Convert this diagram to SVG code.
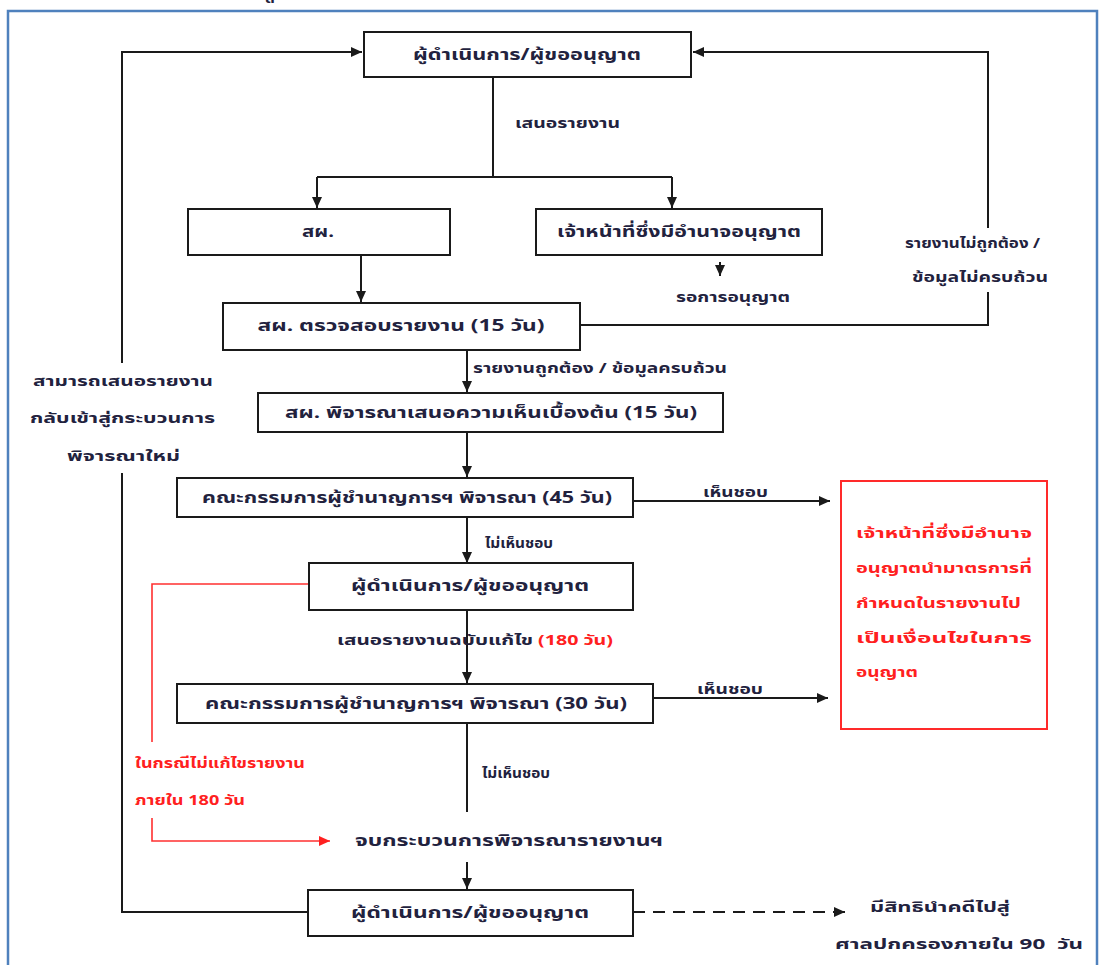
<svg xmlns="http://www.w3.org/2000/svg" width="1101" height="965" viewBox="0 0 1101 965">
  <style>
    .bg{fill:#ffffff}
    .frame{fill:none;stroke:#4f81bd;stroke-width:2.5}
    .box{fill:#ffffff;stroke:#1a1a1a;stroke-width:2}
    .redbox{fill:#ffffff;stroke:#ff2a2a;stroke-width:2}
    .t{font-family:Tahoma,"Noto Sans Thai","Noto Sans Thai UI",Loma,Garuda,"DejaVu Sans",sans-serif;font-size:16px;font-weight:bold;fill:#22223e;text-anchor:middle;dominant-baseline:central;white-space:pre}
    .s{font-size:14px}
    .l{text-anchor:start}
    .red{fill:#ff2020}
    .ln{fill:none;stroke:#1a1a1a;stroke-width:2}
    .dash{stroke-dasharray:12 8}
    .rl{fill:none;stroke:#ff3030;stroke-width:1.6}
  </style>
  <defs>
    <marker id="ah" markerUnits="userSpaceOnUse" markerWidth="12" markerHeight="10" refX="11" refY="5" orient="auto">
      <path d="M0,0 L11,5 L0,10 z" fill="#1a1a1a"/>
    </marker>
    <marker id="ahr" markerUnits="userSpaceOnUse" markerWidth="12" markerHeight="10" refX="11" refY="5" orient="auto">
      <path d="M0,0 L11,5 L0,10 z" fill="#ff2020"/>
    </marker>
  </defs>

  <rect class="bg" x="0" y="0" width="1101" height="965"/>
  <!-- page frame -->
  <rect class="frame" x="8" y="11" width="1089" height="980"/>
  <!-- heading glyph sitting above the frame edge -->
  <text class="t" x="270" y="-2">สี</text>

  <g id="connectors">
    <!-- left return loop -->
    <path class="ln" d="M308,912 H122 V473"/>
    <path class="ln" d="M122,363 V52 H362" marker-end="url(#ah)"/>
    <!-- right return loop -->
    <path class="ln" d="M580,325 H988 V292"/>
    <path class="ln" d="M988,228 V52 H693" marker-end="url(#ah)"/>
    <!-- submit report split -->
    <path class="ln" d="M493,77 V177"/>
    <path class="ln" d="M317,177 H672"/>
    <path class="ln" d="M317,177 V208" marker-end="url(#ah)"/>
    <path class="ln" d="M672,177 V208" marker-end="url(#ah)"/>
    <path class="ln" d="M720,262 V276" marker-end="url(#ah)"/>
    <path class="ln" d="M361,255 V302" marker-end="url(#ah)"/>
    <path class="ln" d="M467,350 V392" marker-end="url(#ah)"/>
    <path class="ln" d="M467,432 V477" marker-end="url(#ah)"/>
    <path class="ln" d="M633,501 H830" marker-end="url(#ah)"/>
    <path class="ln" d="M467,517 V563" marker-end="url(#ah)"/>
    <path class="ln" d="M467,610 V683" marker-end="url(#ah)"/>
    <path class="ln" d="M653,698 H828" marker-end="url(#ah)"/>
    <path class="ln" d="M467,723 V812"/>
    <path class="ln" d="M467,862 V889" marker-end="url(#ah)"/>
    <path class="ln dash" d="M633,912 H845" marker-end="url(#ah)"/>
    <!-- red fallback path -->
    <path class="rl" d="M309,584 H152 V742"/>
    <path class="rl" d="M152,818 V841 H330" marker-end="url(#ahr)"/>
  </g>

  <g id="n-proponent-top">
    <rect class="box" x="364" y="32" width="327" height="45"/>
    <text class="t" x="527" y="55" textLength="228" lengthAdjust="spacingAndGlyphs">ผู้ดำเนินการ/ผู้ขออนุญาต</text>
  </g>
  <g id="lbl-submit">
    <text class="t s l" x="515" y="123" textLength="105" lengthAdjust="spacingAndGlyphs">เสนอรายงาน</text>
  </g>
  <g id="n-onep">
    <rect class="box" x="188" y="209" width="262" height="46"/>
    <text class="t" x="318" y="232" textLength="32" lengthAdjust="spacingAndGlyphs">สผ.</text>
  </g>
  <g id="n-authority">
    <rect class="box" x="536" y="209" width="286" height="46"/>
    <text class="t" x="679" y="232" textLength="244" lengthAdjust="spacingAndGlyphs">เจ้าหน้าที่ซึ่งมีอำนาจอนุญาต</text>
  </g>
  <g id="lbl-await">
    <text class="t s l" x="676" y="297" textLength="114" lengthAdjust="spacingAndGlyphs">รอการอนุญาต</text>
  </g>
  <g id="n-check">
    <rect class="box" x="223" y="303" width="357" height="47"/>
    <text class="t" x="401" y="326" textLength="287" lengthAdjust="spacingAndGlyphs">สผ. ตรวจสอบรายงาน (15 วัน)</text>
  </g>
  <g id="lbl-incomplete">
    <text class="t s l" x="905" y="243" textLength="135" lengthAdjust="spacingAndGlyphs">รายงานไม่ถูกต้อง /</text>
    <text class="t s l" x="912" y="277" textLength="136" lengthAdjust="spacingAndGlyphs">ข้อมูลไม่ครบถ้วน</text>
  </g>
  <g id="lbl-resubmit">
    <text class="t s l" x="33" y="381" textLength="180" lengthAdjust="spacingAndGlyphs">สามารถเสนอรายงาน</text>
    <text class="t s l" x="30" y="418" textLength="185" lengthAdjust="spacingAndGlyphs">กลับเข้าสู่กระบวนการ</text>
    <text class="t s l" x="67" y="456" textLength="113" lengthAdjust="spacingAndGlyphs">พิจารณาใหม่</text>
  </g>
  <g id="lbl-complete">
    <text class="t s l" x="473" y="368" textLength="254" lengthAdjust="spacingAndGlyphs">รายงานถูกต้อง / ข้อมูลครบถ้วน</text>
  </g>
  <g id="n-prelim">
    <rect class="box" x="258" y="393" width="465" height="39"/>
    <text class="t" x="491" y="413" textLength="412" lengthAdjust="spacingAndGlyphs">สผ. พิจารณาเสนอความเห็นเบื้องต้น (15 วัน)</text>
  </g>
  <g id="n-committee45">
    <rect class="box" x="177" y="478" width="456" height="39"/>
    <text class="t" x="407" y="498" textLength="410" lengthAdjust="spacingAndGlyphs">คณะกรรมการผู้ชำนาญการฯ พิจารณา (45 วัน)</text>
  </g>
  <g id="lbl-approve1">
    <text class="t s l" x="703" y="492" textLength="65" lengthAdjust="spacingAndGlyphs">เห็นชอบ</text>
  </g>
  <g id="lbl-reject1">
    <text class="t s l" x="485" y="543" textLength="68" lengthAdjust="spacingAndGlyphs">ไม่เห็นชอบ</text>
  </g>
  <g id="n-proponent-mid">
    <rect class="box" x="309" y="563" width="324" height="47"/>
    <text class="t" x="470" y="586" textLength="238" lengthAdjust="spacingAndGlyphs">ผู้ดำเนินการ/ผู้ขออนุญาต</text>
  </g>
  <g id="lbl-revise">
    <text class="t s l" x="337" y="640" textLength="196" lengthAdjust="spacingAndGlyphs">เสนอรายงานฉบับแก้ไข</text>
    <text class="t s l red" x="538" y="640" textLength="75" lengthAdjust="spacingAndGlyphs">(180 วัน)</text>
  </g>
  <g id="n-committee30">
    <rect class="box" x="177" y="684" width="476" height="39"/>
    <text class="t" x="416" y="704" textLength="422" lengthAdjust="spacingAndGlyphs">คณะกรรมการผู้ชำนาญการฯ พิจารณา (30 วัน)</text>
  </g>
  <g id="lbl-approve2">
    <text class="t s l" x="697" y="689" textLength="66" lengthAdjust="spacingAndGlyphs">เห็นชอบ</text>
  </g>
  <g id="lbl-reject2">
    <text class="t s l" x="482" y="773" textLength="68" lengthAdjust="spacingAndGlyphs">ไม่เห็นชอบ</text>
  </g>
  <g id="lbl-no-revision">
    <text class="t s l red" x="135" y="763" textLength="170" lengthAdjust="spacingAndGlyphs">ในกรณีไม่แก้ไขรายงาน</text>
    <text class="t s l red" x="135" y="800" textLength="110" lengthAdjust="spacingAndGlyphs">ภายใน 180 วัน</text>
  </g>
  <g id="n-end">
    <text class="t" x="509" y="841" textLength="308" lengthAdjust="spacingAndGlyphs">จบกระบวนการพิจารณารายงานฯ</text>
  </g>
  <g id="n-proponent-bottom">
    <rect class="box" x="308" y="890" width="325" height="46"/>
    <text class="t" x="470" y="913" textLength="238" lengthAdjust="spacingAndGlyphs">ผู้ดำเนินการ/ผู้ขออนุญาต</text>
  </g>
  <g id="lbl-court">
    <text class="t s l" x="870" y="907" textLength="140" lengthAdjust="spacingAndGlyphs">มีสิทธินำคดีไปสู่</text>
    <text class="t s l" x="835" y="944" textLength="248" lengthAdjust="spacingAndGlyphs">ศาลปกครองภายใน 90  วัน</text>
  </g>
  <g id="n-conditions">
    <rect class="redbox" x="841" y="481" width="206" height="248"/>
    <text class="t s l red" x="856" y="533" textLength="176" lengthAdjust="spacingAndGlyphs">เจ้าหน้าที่ซึ่งมีอำนาจ</text>
    <text class="t s l red" x="856" y="568" textLength="176" lengthAdjust="spacingAndGlyphs">อนุญาตนำมาตรการที่</text>
    <text class="t s l red" x="856" y="603" textLength="165" lengthAdjust="spacingAndGlyphs">กำหนดในรายงานไป</text>
    <text class="t s l red" x="856" y="638" textLength="176" lengthAdjust="spacingAndGlyphs">เป็นเงื่อนไขในการ</text>
    <text class="t s l red" x="856" y="672" textLength="62" lengthAdjust="spacingAndGlyphs">อนุญาต</text>
  </g>
</svg>
